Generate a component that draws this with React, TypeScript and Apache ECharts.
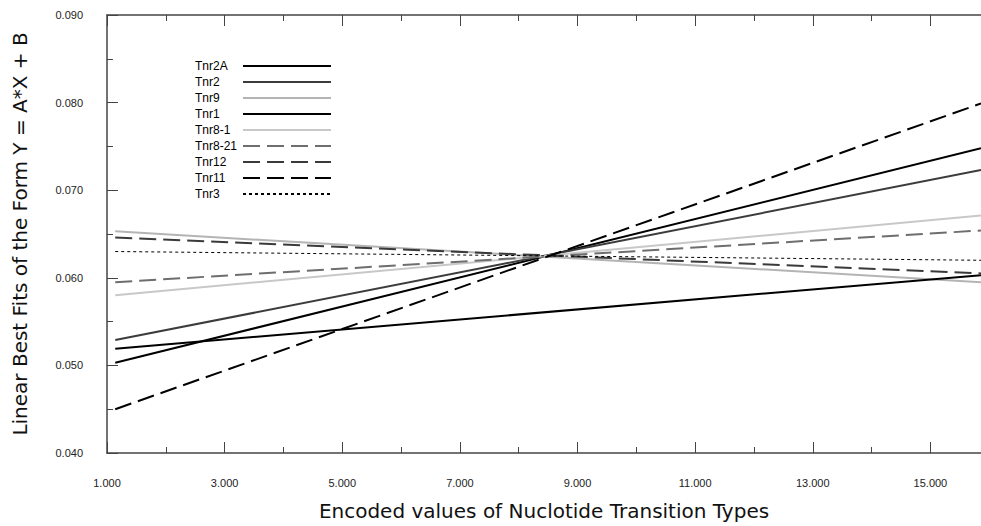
import React, { useEffect, useRef } from "react";
import * as echarts from "echarts";

const seriesNames = ["Tnr2A", "Tnr2", "Tnr9", "Tnr1", "Tnr8-1", "Tnr8-21", "Tnr12", "Tnr11", "Tnr3"];
const xEnds = [1.14, 15.86];
const startValues = [0.0503, 0.0529, 0.0653, 0.0519, 0.058, 0.0595, 0.0646, 0.045, 0.063];
const endValues = [0.0748, 0.0723, 0.0595, 0.0603, 0.0671, 0.0654, 0.0605, 0.0799, 0.062];
const xMajorTicks = [1, 3, 5, 7, 9, 11, 13, 15];
const xMinorTicks = [2, 4, 6, 8, 10, 12, 14];
const yMajorTicks = [0.04, 0.05, 0.06, 0.07, 0.08, 0.09];
const yMinorTicks = [0.045, 0.055, 0.065, 0.075, 0.085];

const lineColors = ["#000000", "#3c3c3c", "#b4b4b4", "#000000", "#c8c8c8", "#6e6e6e", "#3a3a3a", "#000000", "#000000"];
const lineWidths = [2, 2, 2, 2, 2, 2, 2, 2, 1];
const lineDashes: (number[] | string)[] = ["solid", "solid", "solid", "solid", "solid", [17, 7], [17, 7], [17, 7], [3, 3]];

const X_MIN = 1;
const X_MAX = 15.86;
const Y_MIN = 0.04;
const Y_MAX = 0.09;
const AXIS_COLOR = "#444";
const LABEL_FONT = "'Liberation Sans', Arial, sans-serif";
const NAME_FONT = "'DejaVu Sans', Verdana, sans-serif";

export default function App() {
  const ref = useRef<HTMLDivElement>(null);
  useEffect(() => {
    document.body.style.margin = "0";
    if (!ref.current) return;
    const chart = echarts.init(ref.current, null, { renderer: "svg" });

    const xBase = {
      type: "value",
      min: X_MIN,
      max: X_MAX,
      splitLine: { show: false },
    };
    const yBase = {
      type: "value",
      min: Y_MIN,
      max: Y_MAX,
      splitLine: { show: false },
    };
    const legendText = { fontFamily: LABEL_FONT, fontSize: 12, color: "#000", lineHeight: 14 };

    const option: any = {
      animation: false,
      backgroundColor: "#ffffff",
      grid: { left: 107, right: 0, top: 15, bottom: 73, outerBoundsMode: "none" },
      legend: [
        {
          data: seriesNames,
          orient: "vertical",
          left: 185,
          top: 54,
          itemWidth: 0,
          itemHeight: 14,
          itemGap: 2,
          icon: "rect",
          itemStyle: { color: "rgba(0,0,0,0)", borderWidth: 0 },
          selectedMode: false,
          textStyle: legendText,
        },
        {
          data: seriesNames,
          orient: "vertical",
          left: 237,
          top: 54,
          itemWidth: 88,
          itemHeight: 14,
          itemGap: 2,
          selectedMode: false,
          formatter: () => " ",
          itemStyle: { opacity: 0 },
          textStyle: legendText,
        },
      ],
      xAxis: [
        {
          ...xBase,
          position: "bottom",
          name: "Encoded values of Nuclotide Transition Types",
          nameLocation: "middle",
          nameGap: 48,
          nameTextStyle: { fontFamily: NAME_FONT, fontSize: 20, color: "#111" },
          axisLine: { show: true, lineStyle: { color: AXIS_COLOR, width: 1.5 } },
          axisTick: {
            show: true,
            inside: true,
            length: 11,
            customValues: xMajorTicks,
            lineStyle: { color: AXIS_COLOR, width: 1 },
          },
          axisLabel: {
            customValues: xMajorTicks,
            formatter: (v: number) => v.toFixed(3),
            margin: 24,
            fontFamily: LABEL_FONT,
            fontSize: 11,
            color: "#222",
          },
        },
        {
          ...xBase,
          position: "bottom",
          axisLine: { show: false },
          axisTick: {
            show: true,
            inside: true,
            length: 6,
            customValues: xMinorTicks,
            lineStyle: { color: AXIS_COLOR, width: 1 },
          },
          axisLabel: { show: false },
        },
        {
          ...xBase,
          position: "top",
          axisLine: { show: true, lineStyle: { color: AXIS_COLOR, width: 1.5 } },
          axisTick: {
            show: true,
            inside: true,
            length: 11,
            customValues: xMajorTicks,
            lineStyle: { color: AXIS_COLOR, width: 1 },
          },
          axisLabel: { show: false },
        },
        {
          ...xBase,
          position: "top",
          axisLine: { show: false },
          axisTick: {
            show: true,
            inside: true,
            length: 6,
            customValues: xMinorTicks,
            lineStyle: { color: AXIS_COLOR, width: 1 },
          },
          axisLabel: { show: false },
        },
      ],
      yAxis: [
        {
          ...yBase,
          position: "left",
          name: "Linear Best Fits of the Form Y = A*X + B",
          nameLocation: "middle",
          nameGap: 77,
          nameTextStyle: { fontFamily: NAME_FONT, fontSize: 20, color: "#111" },
          axisLine: { show: true, lineStyle: { color: AXIS_COLOR, width: 1.5 } },
          axisTick: {
            show: true,
            inside: true,
            length: 11,
            customValues: yMajorTicks,
            lineStyle: { color: AXIS_COLOR, width: 1 },
          },
          axisLabel: {
            customValues: yMajorTicks,
            formatter: (v: number) => v.toFixed(3),
            margin: 24,
            fontFamily: LABEL_FONT,
            fontSize: 11,
            color: "#222",
          },
        },
        {
          ...yBase,
          position: "left",
          axisLine: { show: false },
          axisTick: {
            show: true,
            inside: true,
            length: 6,
            customValues: yMinorTicks,
            lineStyle: { color: AXIS_COLOR, width: 1 },
          },
          axisLabel: { show: false },
        },
      ],
      series: seriesNames.map((name, i) => ({
        name,
        type: "line",
        xAxisIndex: 0,
        yAxisIndex: 0,
        symbol: "none",
        clip: true,
        data: [
          [xEnds[0], startValues[i]],
          [xEnds[1], endValues[i]],
        ],
        lineStyle: { color: lineColors[i], width: lineWidths[i], type: lineDashes[i] },
        itemStyle: { color: lineColors[i] },
      })),
    };
    chart.setOption(option);
    return () => chart.dispose();
  }, []);
  return <div ref={ref} style={{ width: 981, height: 526 }} />;
}
